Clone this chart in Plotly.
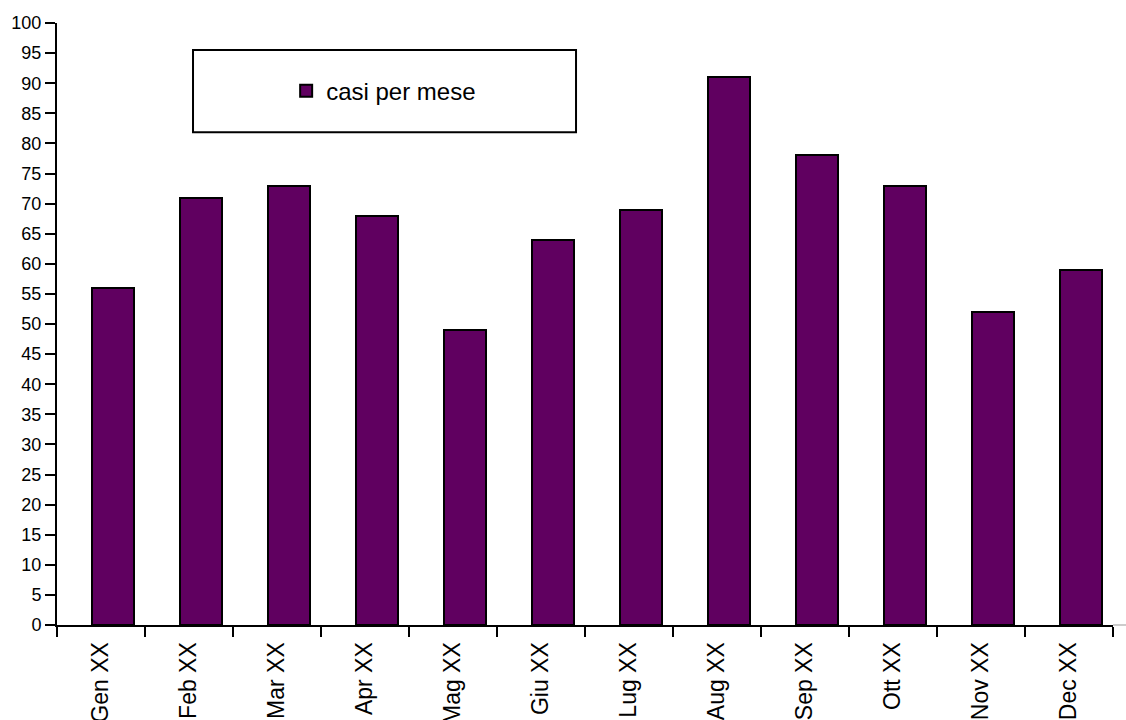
import plotly.graph_objects as go

# Monthly case counts
months = ["Gen XX", "Feb XX", "Mar XX", "Apr XX", "Mag XX", "Giu XX",
          "Lug XX", "Aug XX", "Sep XX", "Ott XX", "Nov XX", "Dec XX"]
cases = [56, 71, 73, 68, 49, 64, 69, 91, 78, 73, 52, 59]
y_ticks = list(range(0, 101, 5))

FONT = "Liberation Sans, Arial, sans-serif"
BAR_COLOR = "#600060"

fig = go.Figure()
fig.add_trace(go.Bar(
    x=months,
    y=cases,
    name="casi per mese",
    width=0.48,
    offset=-0.1,
    marker=dict(color=BAR_COLOR, line=dict(color="black", width=2)),
))

# Legend frame
fig.add_shape(type="rect", xref="paper", yref="paper",
              x0=0.1288, x1=0.4915, y0=0.8186, y1=0.955,
              line=dict(color="black", width=2), fillcolor="white", layer="above")
# Thin grey tail of the category axis
fig.add_shape(type="line", xref="paper", yref="paper",
              x0=1.0, x1=1.0125, y0=0.0, y1=0.0,
              line=dict(color="#999999", width=1))

fig.update_layout(
    width=1126, height=720,
    margin=dict(l=57, r=13, t=23, b=95, autoexpand=False),
    paper_bgcolor="white", plot_bgcolor="white",
    font=dict(family=FONT, color="black"),
    showlegend=True,
    legend=dict(x=0.217, y=0.887, xanchor="left", yanchor="middle",
                bgcolor="rgba(0,0,0,0)", borderwidth=0,
                font=dict(size=24, family=FONT), itemwidth=30),
    bargap=0,
)
fig.update_xaxes(
    type="category", tickson="boundaries", ticks="outside", ticklen=10,
    tickwidth=2, tickcolor="black", tickangle=-90,
    tickfont=dict(size=23, family=FONT), ticklabelstandoff=6,
    showline=True, linecolor="black", linewidth=2, showgrid=False,
    range=[-0.5, 11.5], automargin=False,
)
fig.update_yaxes(
    range=[0, 100], tickvals=y_ticks, ticks="outside", ticklen=10,
    tickwidth=2, tickcolor="black", tickfont=dict(size=18, family=FONT),
    showline=True, linecolor="black", linewidth=2, showgrid=False,
    zeroline=False, automargin=False,
)

fig.write_html("out.html")
